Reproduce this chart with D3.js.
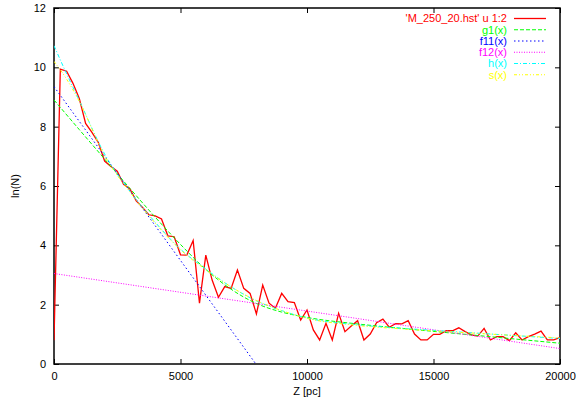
<!DOCTYPE html>
<html>
<head>
<meta charset="utf-8">
<script src="https://cdn.jsdelivr.net/npm/d3@7"></script>
<style>
  body { margin: 0; background: #fff; }
  text { font-family: "Liberation Sans", Arial, sans-serif; font-size: 11px; }
</style>
</head>
<body>
<div id="chart"></div>
<script>
// histogram 'M_250_20.hst' : ln(N) per 250 pc bin, Z = 0 .. 20000
const binWidth = 250;
const lnN = [
  0.80, 9.94, 9.87, 9.46, 8.95, 8.11, 7.81, 7.47, 6.84, 6.66,
  6.50, 6.06, 5.90, 5.50, 5.28, 5.03, 4.99, 4.89, 4.32, 4.29,
  3.68, 3.67, 4.16, 2.05, 3.67, 2.83, 2.25, 2.61, 2.55, 3.17,
  2.55, 2.38, 1.69, 2.66, 2.05, 1.88, 2.38, 2.10, 2.07, 1.48,
  1.82, 1.15, 0.81, 1.37, 0.81, 1.71, 1.09, 1.28, 1.46, 0.81,
  1.01, 1.39, 1.51, 1.24, 1.36, 1.35, 1.46, 1.01, 0.81, 0.81,
  1.00, 1.00, 1.12, 1.12, 1.22, 1.09, 0.98, 0.94, 1.20, 0.81,
  0.92, 0.92, 0.79, 1.05, 0.81, 0.92, 1.01, 1.11, 0.81, 0.81,
  0.89
];

// fitted curves at a few Z values
const g1Z = [0, 1000, 2000, 3000, 4000, 5000, 6000, 7000, 8000, 9000, 10000, 12000, 14000, 16000, 18000, 20000];
const g1V = [8.90, 7.90, 6.91, 5.92, 4.95, 4.03, 3.19, 2.52, 2.04, 1.75, 1.57, 1.35, 1.18, 1.02, 0.86, 0.70];

const f11Z = [0, 7980];
const f11V = [9.35, 0];

const f12Z = [0, 20000];
const f12V = [3.05, 0.52];

const hZ = [0, 500, 1000, 2000, 3000, 4000, 5000, 6000, 7000, 8000, 9000, 10000, 12000, 14000, 16000, 18000, 20000];
const hV = [10.73, 9.78, 8.88, 7.08, 5.82, 4.78, 3.87, 3.20, 2.60, 2.13, 1.80, 1.55, 1.32, 1.19, 1.08, 0.97, 0.86];

const sZ = [0, 500, 1000, 2000, 3000, 4000, 5000, 6000, 7000, 8000, 9000, 10000, 12000, 14000, 16000, 18000, 20000];
const sV = [10.20, 9.60, 8.85, 7.02, 5.80, 4.75, 3.85, 3.18, 2.60, 2.14, 1.80, 1.54, 1.30, 1.17, 1.07, 0.97, 0.88];

const xTicks = [0, 5000, 10000, 15000, 20000];
const yTicks = [0, 2, 4, 6, 8, 10, 12];

const width = 576, height = 402;
const margin = {top: 8, right: 16, bottom: 38, left: 54};

const svg = d3.select("#chart").append("svg")
    .attr("width", width)
    .attr("height", height);

const x = d3.scaleLinear().domain([0, 20000]).range([margin.left, width - margin.right]);
const y = d3.scaleLinear().domain([0, 12]).range([height - margin.bottom, margin.top]);

svg.append("clipPath").attr("id", "plotclip")
  .append("rect")
    .attr("x", margin.left).attr("y", margin.top)
    .attr("width", x.range()[1] - margin.left)
    .attr("height", y.range()[0] - margin.top);

// axes with inward ticks, mirrored on top and right
const tick = 5;
svg.append("g")
    .attr("transform", `translate(0,${y(0)})`)
    .call(d3.axisBottom(x).tickValues(xTicks).tickFormat(d3.format("d")).tickSizeInner(-tick).tickSizeOuter(0).tickPadding(8))
    .call(g => g.select(".domain").remove());
svg.append("g")
    .attr("transform", `translate(0,${y(12)})`)
    .call(d3.axisTop(x).tickValues(xTicks).tickSizeInner(-tick).tickSizeOuter(0).tickFormat(""))
    .call(g => g.select(".domain").remove());
svg.append("g")
    .attr("transform", `translate(${x(0)},0)`)
    .call(d3.axisLeft(y).tickValues(yTicks).tickFormat(d3.format("d")).tickSizeInner(-tick).tickSizeOuter(0).tickPadding(8))
    .call(g => g.select(".domain").remove());
svg.append("g")
    .attr("transform", `translate(${x(20000)},0)`)
    .call(d3.axisRight(y).tickValues(yTicks).tickSizeInner(-tick).tickSizeOuter(0).tickFormat(""))
    .call(g => g.select(".domain").remove());

svg.selectAll(".tick text").attr("fill", "#000").style("font-size", "11px");
svg.selectAll(".tick line").attr("stroke", "#000");

svg.append("rect")
    .attr("x", x(0)).attr("y", y(12))
    .attr("width", x(20000) - x(0))
    .attr("height", y(0) - y(12))
    .attr("fill", "none")
    .attr("stroke", "#000")
    .attr("stroke-width", 1.5);

// axis titles
svg.append("text")
    .attr("x", (x(0) + x(20000)) / 2)
    .attr("y", 395)
    .attr("text-anchor", "middle")
    .text("Z [pc]");
svg.append("text")
    .attr("transform", `translate(19,${(y(0) + y(12)) / 2}) rotate(-90)`)
    .attr("text-anchor", "middle")
    .text("ln(N)");

// series, in gnuplot plotting order
const series = [
  {name: "'M_250_20.hst' u 1:2", z: lnN.map((_, i) => i * binWidth), v: lnN, color: "#ff0000", dash: null, w: 1.3, curve: d3.curveLinear},
  {name: "g1(x)", z: g1Z, v: g1V, color: "#00ff00", dash: "4,2", w: 1, curve: d3.curveMonotoneX},
  {name: "f11(x)", z: f11Z, v: f11V, color: "#0000ff", dash: "1.5,2.5", w: 1, curve: d3.curveLinear},
  {name: "f12(x)", z: f12Z, v: f12V, color: "#ff00ff", dash: "1,1.5", w: 1, curve: d3.curveLinear},
  {name: "h(x)", z: hZ, v: hV, color: "#00ffff", dash: "4,2,1,2", w: 1, curve: d3.curveMonotoneX},
  {name: "s(x)", z: sZ, v: sV, color: "#ffff00", dash: "3,2,1,2,1,2", w: 1, curve: d3.curveMonotoneX}
];

const plot = svg.append("g").attr("clip-path", "url(#plotclip)");

series.forEach(s => {
  const line = d3.line()
      .x((d, i) => x(s.z[i]))
      .y(d => y(d))
      .curve(s.curve);
  plot.append("path")
      .datum(s.v)
      .attr("fill", "none")
      .attr("stroke", s.color)
      .attr("stroke-width", s.w)
      .attr("stroke-dasharray", s.dash)
      .attr("d", line);
});

// legend
const legend = svg.append("g");
series.forEach((s, i) => {
  const ly = 18.5 + i * 11.25;
  legend.append("text")
      .attr("x", 507)
      .attr("y", ly)
      .attr("dy", "0.35em")
      .attr("text-anchor", "end")
      .attr("fill", s.color)
      .text(s.name);
  legend.append("line")
      .attr("x1", 514).attr("x2", 546)
      .attr("y1", ly).attr("y2", ly)
      .attr("stroke", s.color)
      .attr("stroke-width", s.w)
      .attr("stroke-dasharray", s.dash);
});
</script>
</body>
</html>
